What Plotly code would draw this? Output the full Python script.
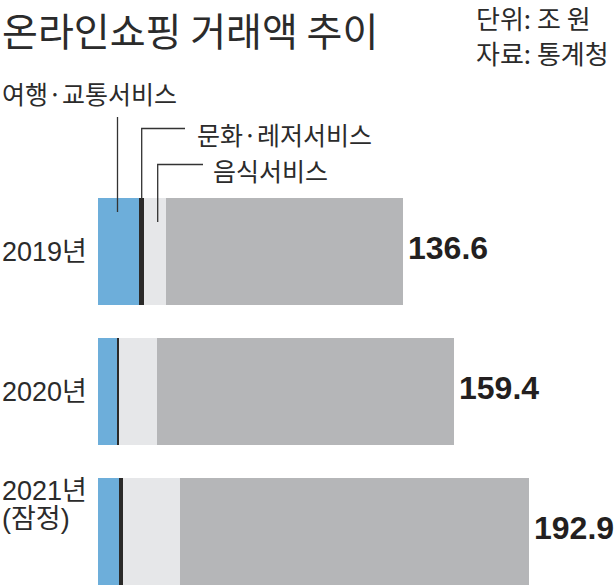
import plotly.graph_objects as go

# ---- data (조 원) ----
years = ["2019년", "2020년", "2021년"]
travel = [18.2, 8.4, 9.4]        # 여행·교통서비스
culture = [2.4, 0.9, 1.6]        # 문화·레저서비스
food = [9.7, 17.3, 25.6]         # 음식서비스
others = [106.3, 132.8, 156.3]   # 기타
totals = [136.6, 159.4, 192.9]
total_labels = ["136.6", "159.4", "192.9"]

W, H = 614, 587
L = 98
PW = W - L
PX_PER_UNIT = 2.232
Y0_PX, STEP_PX = 251.5, 140.0


def ydat(py):
    return (py - Y0_PX) / STEP_PX


def xdat(px):
    return (px - L) / PX_PER_UNIT


def xpaper(px):
    return (px - L) / PW


def ypaper(py):
    return 1 - py / H


BAR_W = 107 / STEP_PX
ypos = list(range(len(years)))

fig = go.Figure()
series = [
    ("여행·교통서비스", travel, "#6DAEDA"),
    ("문화·레저서비스", culture, "#2B2A29"),
    ("음식서비스", food, "#E6E7E9"),
    ("기타", others, "#B5B6B8"),
]
for name, vals, col in series:
    fig.add_trace(go.Bar(
        y=ypos, x=vals, name=name, orientation="h", width=BAR_W,
        marker=dict(color=col, line=dict(width=0)), showlegend=False,
        hoverinfo="x+name",
    ))

fig.update_layout(
    width=W, height=H, barmode="stack",
    margin=dict(l=L, r=0, t=0, b=0, pad=0),
    paper_bgcolor="white", plot_bgcolor="white",
    xaxis=dict(range=[0, PW / PX_PER_UNIT], visible=False, fixedrange=True),
    yaxis=dict(range=[ydat(H), ydat(0)], visible=False, fixedrange=True),
)

TXT = "#2B2B2B"
KR = "Noto Sans CJK KR"
LAT = "Liberation Sans, Noto Sans CJK KR"

ann = []
# title & source
ann.append(dict(text="온라인쇼핑 거래액 추이", xref="paper", yref="paper",
                x=xpaper(1), y=1, xanchor="left", yanchor="top", borderpad=0,
                showarrow=False, font=dict(family=KR, size=39, color=TXT)))
ann.append(dict(text="단위: 조 원", xref="paper", yref="paper",
                x=xpaper(474), y=ypaper(17), xanchor="left", yanchor="middle",
                showarrow=False, font=dict(family=KR, size=26, color=TXT)))
ann.append(dict(text="자료: 통계청", xref="paper", yref="paper",
                x=xpaper(474), y=ypaper(53), xanchor="left", yanchor="middle",
                showarrow=False, font=dict(family=KR, size=26, color=TXT)))
# series callouts
for txt, px, py in [("여행·교통서비스", 0, 93), ("문화·레저서비스", 195, 134), ("음식서비스", 211, 170)]:
    ann.append(dict(text=txt, xref="paper", yref="paper", x=xpaper(px), y=ypaper(py),
                    xanchor="left", yanchor="middle", showarrow=False,
                    font=dict(family=KR, size=25, color=TXT)))
# year labels
ann.append(dict(text=years[0], xref="paper", yref="y", x=xpaper(0), y=0,
                xanchor="left", yanchor="middle", showarrow=False,
                font=dict(family=LAT, size=27, color=TXT)))
ann.append(dict(text=years[1], xref="paper", yref="y", x=xpaper(0), y=1,
                xanchor="left", yanchor="middle", showarrow=False,
                font=dict(family=LAT, size=27, color=TXT)))
ann.append(dict(text=years[2], xref="paper", yref="y", x=xpaper(0), y=ydat(491),
                xanchor="left", yanchor="middle", showarrow=False,
                font=dict(family=LAT, size=27, color=TXT)))
ann.append(dict(text="(잠정)", xref="paper", yref="y", x=xpaper(0), y=ydat(519),
                xanchor="left", yanchor="middle", showarrow=False,
                font=dict(family=LAT, size=27, color=TXT)))
# totals
for i, (t, lab) in enumerate(zip(totals, total_labels)):
    ann.append(dict(text="<b>" + lab + "</b>", xref="x", yref="y", x=t, y=ypos[i],
                    xanchor="left", yanchor="middle", xshift=3, yshift=4, showarrow=False,
                    font=dict(family="Liberation Sans Narrow, Liberation Sans", size=32, color="#231F20")))
fig.update_layout(annotations=ann)

# leader lines
LC = dict(color="#333333", width=1.3)
shapes = [
    dict(type="line", xref="x", yref="y", x0=xdat(117.5), x1=xdat(117.5), y0=ydat(117), y1=ydat(212), line=LC),
    dict(type="path", xref="x", yref="y",
         path=f"M {xdat(185)},{ydat(128.5)} L {xdat(141.7)},{ydat(128.5)} L {xdat(141.7)},{ydat(199)}", line=LC),
    dict(type="path", xref="x", yref="y",
         path=f"M {xdat(203)},{ydat(164.5)} L {xdat(157.7)},{ydat(164.5)} L {xdat(157.7)},{ydat(222)}", line=LC),
]
fig.update_layout(shapes=shapes)

fig.write_html("out.html", config={"displayModeBar": False},
               post_script="document.body.style.margin='0';document.body.style.overflow='hidden';")
